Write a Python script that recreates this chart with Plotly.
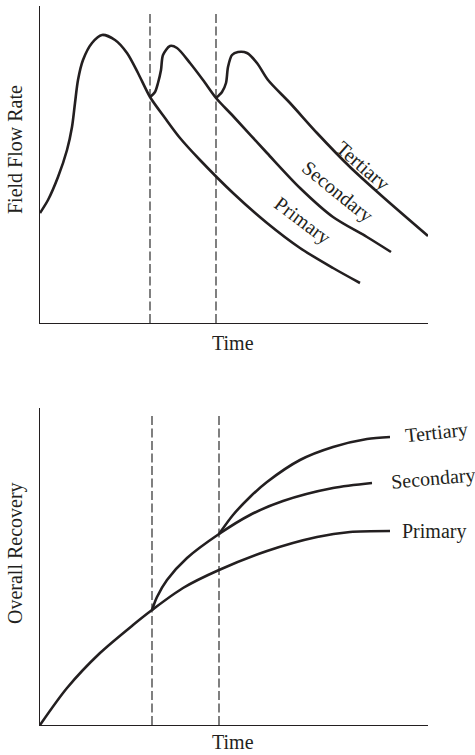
import plotly.graph_objects as go

# ---------------- Data (top panel: field flow rate) ----------------
top_primary_t = [0, 8, 18, 27, 32, 35, 38, 43, 52, 62, 75, 87, 98, 110, 125, 140, 160, 193, 227, 260, 293, 320]
top_primary_q = [110, 123, 146, 173, 196, 220, 243, 263, 280, 288, 283, 270, 250, 226, 205, 185, 163, 130, 100, 75, 55, 40]

top_secondary_t = [110, 115, 118, 121, 123, 130, 137, 150, 163, 176, 193, 227, 260, 293, 327, 351]
top_secondary_q = [226, 231, 240, 253, 268, 277, 275, 260, 243, 225, 207, 170, 135, 106, 86, 71]

top_tertiary_t = [176, 182, 186, 188, 192, 198, 207, 217, 228, 250, 277, 310, 343, 388]
top_tertiary_q = [225, 231, 240, 256, 268, 271, 270, 260, 243, 220, 190, 156, 126, 87]

top_stage_times = [110, 176]
top_stage_tops = [312, 310]

# ---------------- Data (bottom panel: overall recovery) ----------------
bot_primary_t = [0, 27, 60, 93, 112, 143, 179, 227, 277, 310, 350]
bot_primary_r = [0, 37, 72, 100, 115, 137, 155, 174, 188, 193, 194]

bot_secondary_t = [112, 117, 127, 147, 179, 210, 243, 293, 332]
bot_secondary_r = [115, 128, 145, 167, 191, 210, 224, 237, 242]

bot_tertiary_t = [179, 193, 210, 227, 260, 293, 327, 350]
bot_tertiary_r = [191, 210, 228, 243, 265, 278, 286, 288]

bot_stage_times = [112, 179]
bot_stage_tops = [310, 310]

labels = ["Primary", "Secondary", "Tertiary"]

INK = "#231f20"
FONT = "Liberation Serif"
FS = 20

fig = go.Figure()

def curve(x, y, xa, ya):
    fig.add_trace(go.Scatter(x=x, y=y, mode="lines", xaxis=xa, yaxis=ya,
                             line=dict(color=INK, width=2.6, shape="spline", smoothing=0.8),
                             hoverinfo="skip", showlegend=False))

def dashed(xs, tops, xa, ya):
    for xv, tv in zip(xs, tops):
        fig.add_trace(go.Scatter(x=[xv, xv], y=[0, tv], mode="lines", xaxis=xa, yaxis=ya,
                                 line=dict(color="#4a4a4a", width=1.4, dash="9px,3.5px"),
                                 hoverinfo="skip", showlegend=False))

dashed(top_stage_times, top_stage_tops, "x", "y")
curve(top_primary_t, top_primary_q, "x", "y")
curve(top_secondary_t, top_secondary_q, "x", "y")
curve(top_tertiary_t, top_tertiary_q, "x", "y")

dashed(bot_stage_times, bot_stage_tops, "x2", "y2")
curve(bot_primary_t, bot_primary_r, "x2", "y2")
curve(bot_secondary_t, bot_secondary_r, "x2", "y2")
curve(bot_tertiary_t, bot_tertiary_r, "x2", "y2")

W, H = 475, 755
x0, x1 = 40 / W, 428 / W

axis_common = dict(showgrid=False, zeroline=False, showticklabels=False, ticks="",
                   showline=True, linecolor=INK, linewidth=1.4, fixedrange=True)

fig.update_layout(
    width=W, height=H,
    margin=dict(l=0, r=0, t=0, b=0),
    paper_bgcolor="white", plot_bgcolor="white",
    xaxis=dict(domain=[x0, x1], range=[0, 388], anchor="y", **axis_common),
    yaxis=dict(domain=[1 - 323 / H, 1 - 6 / H], range=[0, 317], anchor="x", **axis_common),
    xaxis2=dict(domain=[x0, x1], range=[0, 388], anchor="y2", **axis_common),
    yaxis2=dict(domain=[1 - 725 / H, 1 - 408 / H], range=[0, 317], anchor="x2", **axis_common),
    font=dict(family=FONT, size=FS, color=INK),
)

ann = []
# Top panel curve labels (rotated along curves)
top_label_pos = [(262, 102, 37), (297, 131, 39), (322, 157, 41)]
for name, (lx, ly, ang) in zip(labels, top_label_pos):
    ann.append(dict(text=name, x=lx, y=ly, xref="x", yref="y", showarrow=False,
                    xanchor="center", yanchor="middle",
                    textangle=ang, font=dict(family=FONT, size=FS, color=INK)))
# Bottom panel curve labels (at line ends)
bot_label_pos = [(360, 194, 0), (348, 247, -5), (362, 293, -6)]
for name, (lx, ly, ang) in zip(labels, bot_label_pos):
    ann.append(dict(text=name, x=lx, y=ly, xref="x2", yref="y2", showarrow=False,
                    xanchor="left", yanchor="middle", textangle=ang,
                    font=dict(family=FONT, size=FS, color=INK)))

# Axis titles
def title(text, px, py, ang=0):
    ann.append(dict(text=text, x=px / W, y=1 - py / H, xref="paper", yref="paper",
                    xanchor="center", yanchor="middle", showarrow=False, textangle=ang,
                    font=dict(family=FONT, size=FS, color=INK)))

title("Field Flow Rate", 15, 150, -90)
title("Overall Recovery", 15, 553, -90)
title("Time", 233, 343)
title("Time", 233, 742)

fig.update_layout(annotations=ann)

fig.write_html("out.html", config={"displayModeBar": False},
               post_script="document.body.style.margin='0';document.body.style.overflow='hidden';")
